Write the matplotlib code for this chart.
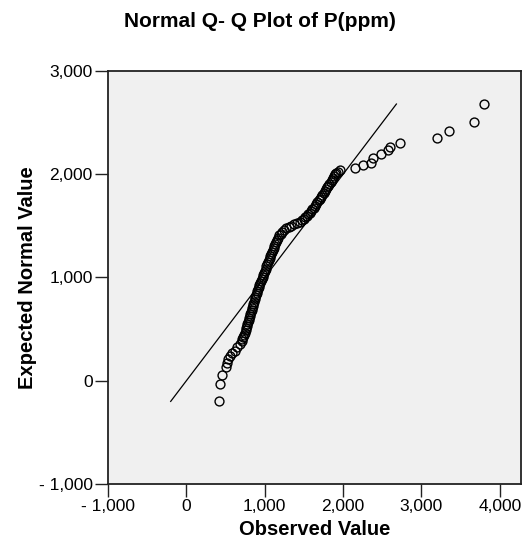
"""Normal Q-Q plot of P(ppm), SPSS style."""

import matplotlib

matplotlib.use("Agg")
import matplotlib.pyplot as plt
from matplotlib.ticker import FixedLocator

plt.rcParams["font.family"] = ["Liberation Sans", "DejaVu Sans"]

# observed value of each point (ppm)
observed = [
    417, 430, 459, 502, 515, 536, 557, 587, 621, 650, 685, 706,
    716, 727, 738, 748, 757, 765, 772, 779, 786, 793, 800, 808,
    816, 824, 832, 840, 848, 856, 864, 872, 880, 888, 896, 904,
    912, 922, 932, 942, 952, 962, 972, 982, 992, 1002, 1012, 1022,
    1032, 1042, 1052, 1062, 1072, 1082, 1092, 1102, 1112, 1122, 1132, 1142,
    1154, 1168, 1184, 1202, 1222, 1246, 1274, 1306, 1340, 1376, 1412, 1446,
    1476, 1500, 1520, 1540, 1558, 1576, 1592, 1608, 1624, 1640, 1656, 1672,
    1688, 1704, 1720, 1736, 1752, 1768, 1784, 1798, 1812, 1826, 1840, 1854,
    1868, 1882, 1897, 1912, 1935, 1960,
    2152, 2258, 2352, 2378, 2480, 2577, 2598, 2726, 3194, 3347, 3666, 3793,
]

# expected normal value of each point
expected = [
    -200, -32, 58, 129, 171, 210, 242, 264, 290, 322, 355, 387,
    407, 427, 447, 467, 487, 507, 527, 547, 567, 587, 607, 627,
    647, 667, 687, 707, 727, 747, 767, 787, 807, 827, 847, 867,
    887, 907, 927, 947, 967, 987, 1007, 1027, 1047, 1067, 1087, 1107,
    1127, 1147, 1167, 1187, 1207, 1227, 1247, 1267, 1287, 1307, 1327, 1347,
    1367, 1387, 1407, 1426, 1444, 1461, 1477, 1491, 1503, 1514, 1526, 1539,
    1553, 1567, 1582, 1597, 1612, 1628, 1644, 1660, 1677, 1694, 1711, 1728,
    1746, 1764, 1782, 1800, 1818, 1836, 1854, 1872, 1890, 1908, 1926, 1944,
    1962, 1980, 1998, 2014, 2026, 2038,
    2060, 2088, 2113, 2155, 2194, 2236, 2265, 2307, 2355, 2420, 2510, 2682,
]

# reference line y = x
ref_line = [-200, 2680]

x_ticks = [-1000, 0, 1000, 2000, 3000, 4000]
x_labels = ["- 1,000", "0", "1,000", "2,000", "3,000", "4,000"]
y_ticks = [-1000, 0, 1000, 2000, 3000]
y_labels = ["- 1,000", "0", "1,000", "2,000", "3,000"]

fig = plt.figure(figsize=(5.26, 5.49), dpi=100)
ax = fig.add_axes([0.2053, 0.1184, 0.7852, 0.7523])
ax.set_facecolor("#f0f0f0")

ax.plot(ref_line, ref_line, color="black", lw=0.9, zorder=2)
ax.plot(
    observed,
    expected,
    linestyle="none",
    marker="o",
    markersize=6.4,
    markerfacecolor="none",
    markeredgecolor="black",
    markeredgewidth=1.0,
    zorder=3,
)

ax.set_xlim(-1000, 4270)
ax.set_ylim(-1000, 3000)
ax.xaxis.set_major_locator(FixedLocator(x_ticks))
ax.yaxis.set_major_locator(FixedLocator(y_ticks))
ax.set_xticklabels(x_labels)
ax.set_yticklabels(y_labels)
ax.tick_params(direction="out", length=9.5, width=1.0, labelsize=12.5, pad=1.5,
               color="#222222")

for spine in ax.spines.values():
    spine.set_linewidth(1.3)
    spine.set_color("#222222")

ax.set_xlabel("Observed Value", fontsize=14.5, fontweight="bold", labelpad=4)
ax.set_ylabel("Expected Normal Value", fontsize=14.5, fontweight="bold", labelpad=1)
fig.text(0.494, 0.960, "Normal Q- Q Plot of P(ppm)", ha="center", va="center",
         fontsize=15, fontweight="bold")

fig.savefig("out.png", dpi=100)
